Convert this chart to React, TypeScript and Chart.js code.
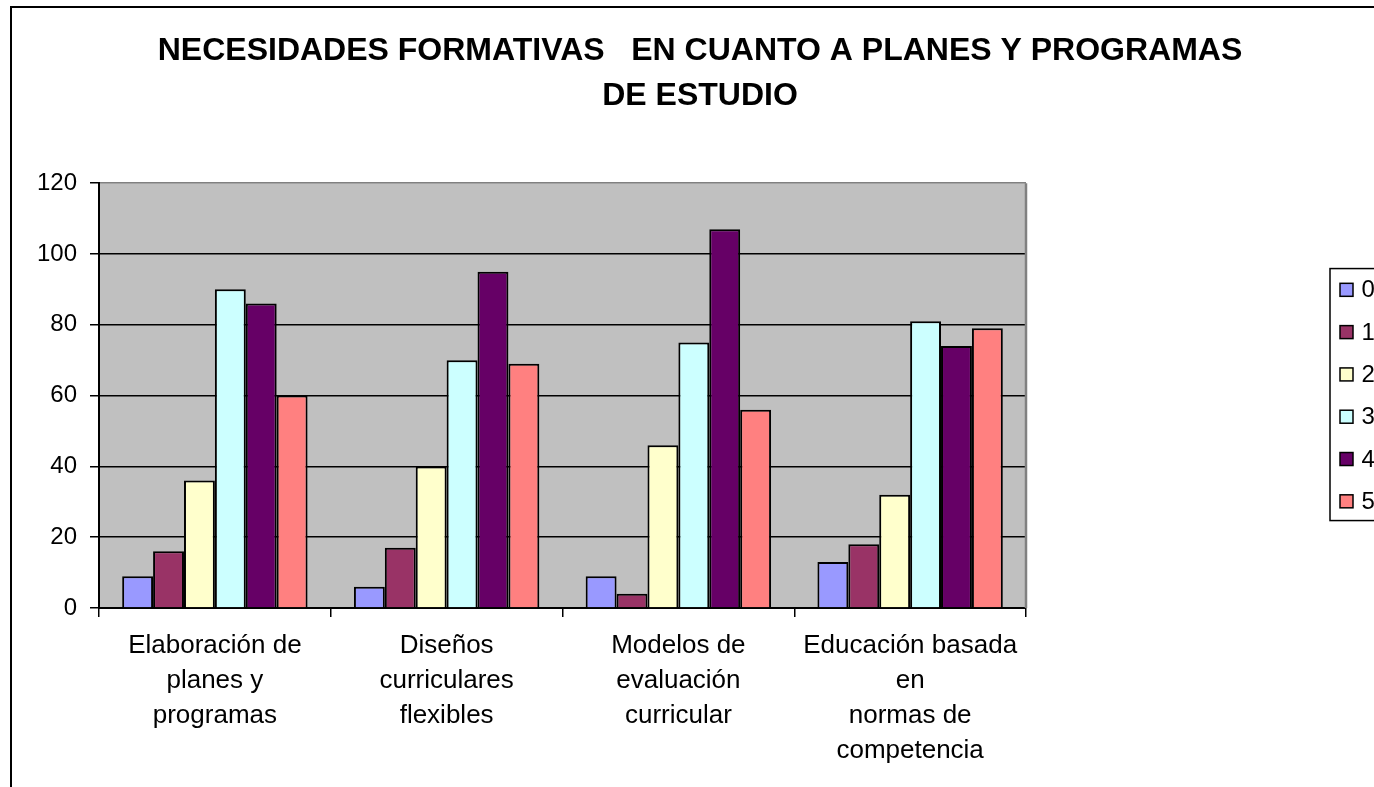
import React, { useEffect, useRef } from "react";
import { Chart, registerables } from "chart.js";

Chart.register(...registerables);

const FONT = "'Liberation Sans', Arial, sans-serif";

const titleLines = [
  "NECESIDADES FORMATIVAS   EN CUANTO A PLANES Y PROGRAMAS",
  "DE ESTUDIO",
];

const categories: string[][] = [
  ["Elaboración de", "planes y", "programas"],
  ["Diseños", "curriculares", "flexibles"],
  ["Modelos de", "evaluación", "curricular"],
  ["Educación basada", "en", "normas de", "competencia"],
];

const seriesLabels = ["0", "1", "2", "3", "4", "5"];
const seriesColors = ["#9999FF", "#993366", "#FFFFCC", "#CCFFFF", "#660066", "#FF8080"];

const values0 = [9, 6, 9, 13];
const values1 = [16, 17, 4, 18];
const values2 = [36, 40, 46, 32];
const values3 = [90, 70, 75, 81];
const values4 = [86, 95, 107, 74];
const values5 = [60, 69, 56, 79];

const seriesValues = [values0, values1, values2, values3, values4, values5];

const yMin = 0;
const yMax = 120;
const yStep = 20;

const plotBgPlugin = {
  id: "plotBg",
  beforeDraw(chart: any) {
    const { ctx, chartArea: ca } = chart;
    ctx.save();
    ctx.fillStyle = "#C0C0C0";
    ctx.fillRect(ca.left, ca.top, ca.right - ca.left, ca.bottom - ca.top);
    ctx.restore();
  },
  beforeDatasetsDraw(chart: any) {
    const { ctx, chartArea: ca } = chart;
    ctx.save();
    ctx.strokeStyle = "#808080";
    ctx.lineWidth = 2.5;
    ctx.beginPath();
    ctx.moveTo(ca.right, ca.top);
    ctx.lineTo(ca.right, ca.bottom);
    ctx.stroke();
    ctx.restore();
  },
};

const boxLegendPlugin = {
  id: "boxLegend",
  afterDraw(chart: any) {
    const { ctx, chartArea: ca } = chart;
    const cy = (ca.top + ca.bottom) / 2;
    const left = ca.right + 304;
    const spacing = 42.3;
    const n = chart.data.datasets.length;
    ctx.save();
    ctx.strokeStyle = "#000";
    ctx.lineWidth = 1.5;
    ctx.strokeRect(left, cy - 127, 200, 252);
    ctx.font = `24px ${FONT}`;
    ctx.textBaseline = "middle";
    ctx.textAlign = "left";
    chart.data.datasets.forEach((ds: any, i: number) => {
      const y = cy + (i - (n - 1) / 2) * spacing;
      ctx.fillStyle = ds.backgroundColor;
      ctx.fillRect(left + 10, y - 6.5, 13, 13);
      ctx.lineWidth = 1.5;
      ctx.strokeStyle = "#000";
      ctx.strokeRect(left + 10, y - 6.5, 13, 13);
      ctx.fillStyle = "#000";
      ctx.fillText(ds.label, left + 31.5, y + 1);
    });
    ctx.restore();
  },
};

function App() {
  const canvasRef = useRef<HTMLCanvasElement | null>(null);

  useEffect(() => {
    if (!canvasRef.current) return;
    const chart = new Chart(canvasRef.current, {
      type: "bar",
      data: {
        labels: categories,
        datasets: seriesLabels.map((label, i) => ({
          label,
          data: seriesValues[i],
          backgroundColor: seriesColors[i],
          borderColor: "#000",
          borderWidth: 2,
          barPercentage: 1,
          categoryPercentage: 0.8,
        })),
      },
      options: {
        responsive: false,
        animation: false,
        layout: { padding: { left: 26, right: 0, top: 0, bottom: 0 } },
        plugins: {
          legend: { display: false },
          tooltip: { enabled: false },
          title: {
            display: true,
            text: titleLines,
            color: "#000",
            font: { family: FONT, size: 32, weight: "bold", lineHeight: 1.385 },
            padding: { top: 29.5, bottom: 65 },
          },
        },
        scales: {
          x: {
            grid: {
              display: true,
              drawOnChartArea: false,
              drawTicks: true,
              tickLength: 9,
              color: "#000",
              lineWidth: 1.5,
              offset: true,
            },
            border: { display: true, color: "#000", width: 2 },
            ticks: {
              color: "#000",
              font: { family: FONT, size: 26, lineHeight: 1.34 },
              padding: 11.6,
              maxRotation: 0,
              autoSkip: false,
            },
            afterFit: (s: any) => {
              s.height = 179;
            },
          },
          y: {
            min: yMin,
            max: yMax,
            ticks: {
              stepSize: yStep,
              color: "#000",
              font: { family: FONT, size: 24 },
              padding: 13,
            },
            grid: {
              color: (c: any) => (c.tick && c.tick.value === yMax ? "#808080" : "#000"),
              tickColor: "#000",
              lineWidth: 1.5,
              tickLength: 9,
            },
            border: { display: true, color: "#000", width: 2 },
            afterFit: (s: any) => {
              s.width = 73;
            },
          },
          ySpacer: {
            position: "right",
            min: yMin,
            max: yMax,
            grid: { display: false },
            border: { display: false },
            ticks: { display: false },
            afterFit: (s: any) => {
              s.width = 348;
            },
          },
        },
      } as any,
      plugins: [plotBgPlugin, boxLegendPlugin],
    });
    return () => chart.destroy();
  }, []);

  return (
    <div
      style={{
        position: "fixed",
        left: 0,
        top: 0,
        width: 1374,
        height: 787,
        overflow: "hidden",
        background: "#fff",
      }}
    >
      <div
        style={{
          position: "absolute",
          left: 10,
          top: 6,
          width: 1500,
          height: 900,
          border: "2px solid #000",
          boxSizing: "border-box",
        }}
      />
      <canvas
        ref={canvasRef}
        width={1374}
        height={787}
        style={{ position: "absolute", left: 0, top: 0, width: 1374, height: 787 }}
      />
    </div>
  );
}

export default App;
